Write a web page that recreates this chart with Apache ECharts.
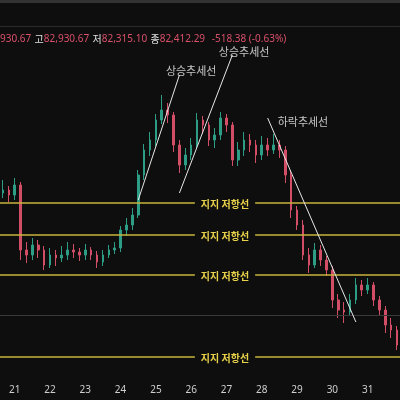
<!DOCTYPE html>
<html><head><meta charset="utf-8">
<script src="https://cdn.jsdelivr.net/npm/echarts@6/dist/echarts.min.js"></script>
<style>html,body{margin:0;padding:0;background:#0e0e0e}#c{width:400px;height:400px}</style>
</head><body><div id="c"></div>
<script>
const days = ['20','21','22','23','24','25','26','27','28','29','30','31'];
const opens  = [185,188,183,193,128,123,133,128,113,123,120,123,128,126,123,128,123,116,123,128,130,148,153,163,203,228,238,258,268,263,233,213,223,233,258,253,238,243,260,253,218,228,238,233,223,233,228,233,228,203,168,153,123,113,128,118,108,78,68,66,78,93,88,93,78,68,53,48];
const closes = [188,183,193,128,123,133,128,113,123,120,123,128,126,123,128,123,116,123,128,130,148,153,163,203,228,238,258,268,263,233,213,223,233,258,253,238,243,260,253,218,228,238,233,223,233,228,233,228,203,168,153,123,113,128,118,108,78,68,66,78,93,88,93,78,68,53,48,33];
const highs  = [198,192,200,196,136,140,138,132,130,128,132,136,134,130,134,131,127,128,133,136,152,160,170,208,234,246,264,283,275,266,238,230,240,265,262,256,250,266,264,256,236,246,244,238,242,240,244,238,232,208,172,158,130,135,133,122,112,84,76,84,100,98,100,96,82,72,60,52];
const lows   = [180,176,178,118,115,118,120,108,110,112,116,118,120,117,118,118,110,112,120,124,126,142,148,160,198,222,232,254,255,226,205,208,218,230,244,232,230,238,246,212,212,222,226,215,218,222,224,220,195,160,148,118,105,110,112,102,70,60,55,62,74,82,84,72,62,45,40,28];
const levels = [175,143,103,21];
const midLevel = 63;
const trendLines = [[[23.3,178],[30.1,303]],[[29.8,185],[38.6,323]],[[45.4,260],[59.5,56]]];
const trendLabels = [[32.3,307,'상승추세선'],[41.3,326,'상승추세선'],[51.3,256,'하락추세선']];

const cats = [];
for (let i=0;i<opens.length;i++){ const k=(i+4)%6; const d=Math.floor((i+4)/6); cats.push(k===0?days[d]:''); }
const candles = opens.map((o,i)=>[o,closes[i],lows[i],highs[i]]);

const chart = echarts.init(document.getElementById('c'));
chart.setOption({
  backgroundColor:'#0e0e0e',
  animation:false,
  grid:{left:0,right:0,top:0,bottom:22},
  xAxis:{type:'category',data:cats,axisLine:{show:false},axisTick:{show:false},
    axisLabel:{color:'#cfcfcf',fontSize:10,interval:(i,v)=>v!=='',margin:7,fontFamily:'Noto Sans'},splitLine:{show:false}},
  yAxis:{type:'value',min:0,max:378,show:false,splitLine:{show:false}},
  graphic:[
    {type:'rect',shape:{x:0,y:0,width:400,height:3},style:{fill:'#333'}},
    {type:'rect',shape:{x:0,y:26,width:400,height:1},style:{fill:'#2a2a2a'}},
    {type:'text',left:0,top:33,style:{
      text:'{r|930.67} {w|고}{r|82,930.67} {w|저}{r|82,315.10} {w|종}{r|82,412.29}  {r|-518.38 (-0.63%)}',
      rich:{r:{fill:'#d9506a',fontSize:10,fontFamily:'Noto Sans'},w:{fill:'#e0e0e0',fontSize:10,fontFamily:'Noto Sans CJK KR'}}}}
  ],
  series:[
    {type:'candlestick',data:candles,barWidth:'35%',
      itemStyle:{color:'#2e9d86',color0:'#d24d66',borderColor:'#2e9d86',borderColor0:'#d24d66'},
      markLine:{symbol:'none',silent:true,animation:false,data:[
        ...levels.map(v=>({yAxis:v,lineStyle:{color:'#c9b43c',width:1.5,type:'solid'},
          label:{show:true,position:'middle',distance:0,offset:[25,7],formatter:'지지 저항선',color:'#e8d24a',fontSize:10,fontWeight:'bold',
            fontFamily:'Noto Sans CJK KR',backgroundColor:'#0e0e0e',padding:[1,6]}})),
        {yAxis:midLevel,lineStyle:{color:'#3a3a3a',width:1,type:'solid'},label:{show:false}},
        ...trendLines.map(t=>[{coord:t[0],lineStyle:{color:'#e8e8e8',width:1,type:'solid'},label:{show:false}},{coord:t[1]}])
      ]}},
    {type:'scatter',symbolSize:0,data:trendLabels.map(t=>[t[0],t[1]]),
      label:{show:true,position:'inside',formatter:p=>trendLabels[p.dataIndex][2],color:'#f0f0f0',fontSize:11,fontFamily:'Noto Sans CJK KR'}}
  ]
});
</script></body></html>
